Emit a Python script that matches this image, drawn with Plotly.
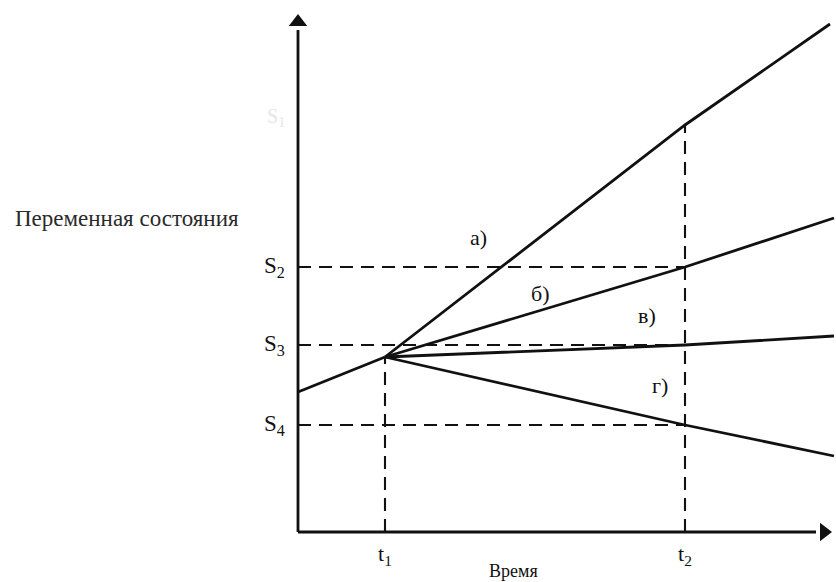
import plotly.graph_objects as go

# state-variable trajectories (time units, state units)
t_start, t1, t2 = 0.0, 8.7, 38.7
s_start, s_t1 = 14.0, 17.5
S2, S3, S4 = 26.5, 18.7, 10.7

branch_names = ["а)", "б)", "в)", "г)"]
branch_at_t2 = [40.7, 26.5, 18.7, 10.7]
branch_t_end = [53.2, 53.6, 53.6, 53.6]
branch_end = [50.8, 31.4, 19.6, 7.6]
branch_label_x = [18.0, 24.2, 34.9, 36.2]
branch_label_y = [29.5, 23.9, 21.7, 14.7]

levels = [S2, S3, S4]
level_names = ["S<sub>2</sub>", "S<sub>3</sub>", "S<sub>4</sub>"]

x_max, y_max = 53.8, 52.2

FONT = "Liberation Serif, DejaVu Serif, serif"
INK = "#111111"

fig = go.Figure()

# trend before t1
fig.add_trace(go.Scatter(x=[t_start, t1], y=[s_start, s_t1], mode="lines",
                         line=dict(color=INK, width=2.8), hoverinfo="skip"))

# four alternative branches after t1
for name, y2, te, ye in zip(branch_names, branch_at_t2, branch_t_end, branch_end):
    fig.add_trace(go.Scatter(x=[t1, t2, te], y=[s_t1, y2, ye], mode="lines",
                             line=dict(color=INK, width=2.8), name=name, hoverinfo="skip"))

# dashed guides
dash = dict(color=INK, width=2.1, dash="13px,8px")
for lv in levels:
    fig.add_trace(go.Scatter(x=[0, t2], y=[lv, lv], mode="lines", line=dash, hoverinfo="skip"))
fig.add_trace(go.Scatter(x=[t1, t1], y=[0, s_t1], mode="lines", line=dash, hoverinfo="skip"))
fig.add_trace(go.Scatter(x=[t2, t2], y=[0, branch_at_t2[0]], mode="lines", line=dash, hoverinfo="skip"))

# axes with arrows
fig.add_trace(go.Scatter(x=[0, 0], y=[0, y_max - 2], mode="lines",
                         line=dict(color=INK, width=2.8), hoverinfo="skip"))
fig.add_trace(go.Scatter(x=[0, x_max - 2], y=[0, 0], mode="lines",
                         line=dict(color=INK, width=2.8), hoverinfo="skip"))
fig.add_trace(go.Scatter(x=[0], y=[y_max - 1.2], mode="markers", hoverinfo="skip",
                         marker=dict(symbol="triangle-up", size=16, color=INK,
                                     line=dict(width=0))))
fig.add_trace(go.Scatter(x=[x_max - 1.2], y=[0], mode="markers", hoverinfo="skip",
                         marker=dict(symbol="triangle-right", size=16, color=INK,
                                     line=dict(width=0))))

# labels
for name, lx, ly in zip(branch_names, branch_label_x, branch_label_y):
    fig.add_annotation(x=lx, y=ly, text=name, showarrow=False,
                       font=dict(family=FONT, size=22, color=INK))
for name, lv in zip(level_names, levels):
    fig.add_annotation(x=-1.1, y=lv, text=name, showarrow=False, xanchor="right",
                       font=dict(family=FONT, size=23, color=INK))
fig.add_annotation(x=-1.1, y=41.5, text="S<sub>1</sub>", showarrow=False, xanchor="right",
                   font=dict(family=FONT, size=20, color="#e6e6e6"))
fig.add_annotation(x=t1, y=-2.3, text="t<sub>1</sub>", showarrow=False,
                   font=dict(family=FONT, size=22, color=INK))
fig.add_annotation(x=t2, y=-2.3, text="t<sub>2</sub>", showarrow=False,
                   font=dict(family=FONT, size=22, color=INK))
fig.add_annotation(x=21.5, y=-3.85, text="Время", showarrow=False,
                   font=dict(family=FONT, size=18, color=INK))
fig.add_annotation(x=-28.5, y=31.4, text="Переменная состояния", showarrow=False,
                   xanchor="left", font=dict(family=FONT, size=23, color="#2a2a2a"))

fig.update_layout(
    width=836, height=582,
    margin=dict(l=0, r=0, t=0, b=0),
    paper_bgcolor="white", plot_bgcolor="white",
    showlegend=False,
    xaxis=dict(range=[-29.8, 53.8], visible=False, fixedrange=True),
    yaxis=dict(range=[-5.0, 53.2], visible=False, fixedrange=True),
)

# the page body has a default margin; drop it so the figure fills the window
fig.write_html("out.html", config={"displayModeBar": False},
               post_script="document.body.style.margin='0';")
